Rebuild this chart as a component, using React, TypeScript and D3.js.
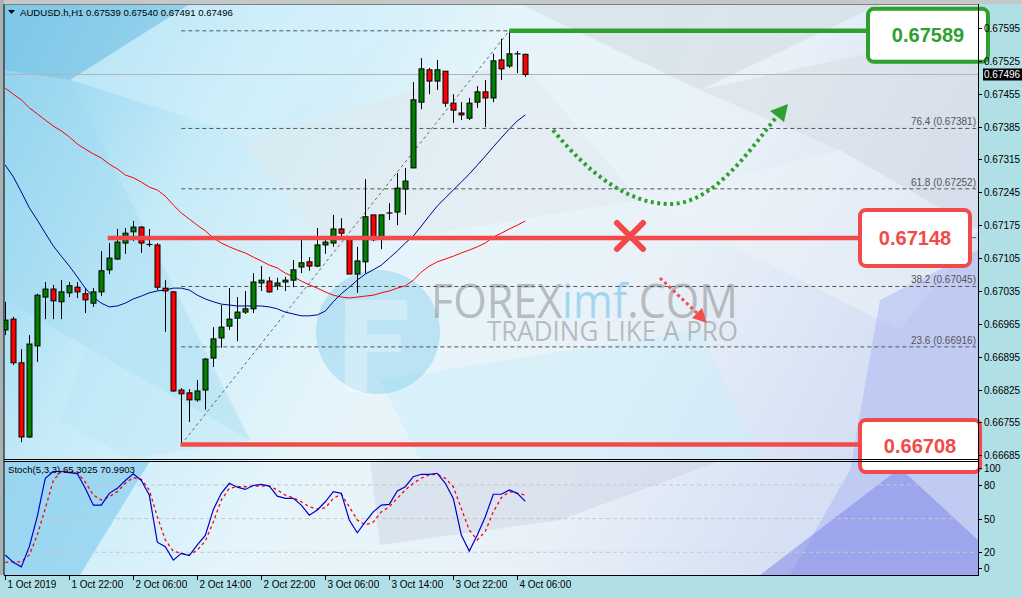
import React from 'react';
import * as d3 from 'd3';

// ---------- DATA ----------
const symbolLabel = 'AUDUSD.h,H1';
const headerOHLC = ['0.67539', '0.67540', '0.67491', '0.67496'];

const timeLabels = ['1 Oct 2019', '1 Oct 22:00', '2 Oct 06:00', '2 Oct 14:00', '2 Oct 22:00', '3 Oct 06:00', '3 Oct 14:00', '3 Oct 22:00', '4 Oct 06:00'];
const barsPerTimeLabel = 8;

const openP = [0.66952, 0.66975, 0.66882, 0.66724, 0.66918, 0.67022, 0.67039, 0.67012, 0.67031, 0.67043, 0.67029, 0.67009, 0.67033, 0.67080, 0.67103, 0.67137, 0.67161, 0.67171, 0.67135, 0.67133, 0.67041, 0.67033, 0.66824, 0.66818, 0.66803, 0.66824, 0.66892, 0.66935, 0.66960, 0.66977, 0.66990, 0.66997, 0.67052, 0.67056, 0.67046, 0.67054, 0.67058, 0.67086, 0.67097, 0.67088, 0.67133, 0.67137, 0.67167, 0.67150, 0.67071, 0.67097, 0.67197, 0.67146, 0.67201, 0.67203, 0.67252, 0.67297, 0.67437, 0.67506, 0.67482, 0.67503, 0.67435, 0.67414, 0.67403, 0.67437, 0.67459, 0.67446, 0.67527, 0.67514, 0.67540, 0.67539];
const highP = [0.67012, 0.66980, 0.66911, 0.66941, 0.67029, 0.67054, 0.67048, 0.67058, 0.67054, 0.67054, 0.67041, 0.67041, 0.67120, 0.67137, 0.67167, 0.67169, 0.67184, 0.67173, 0.67167, 0.67137, 0.67058, 0.67035, 0.66828, 0.66826, 0.66845, 0.66892, 0.66958, 0.67005, 0.67041, 0.67022, 0.67035, 0.67073, 0.67088, 0.67065, 0.67063, 0.67065, 0.67101, 0.67150, 0.67107, 0.67169, 0.67150, 0.67197, 0.67190, 0.67150, 0.67129, 0.67273, 0.67197, 0.67197, 0.67222, 0.67286, 0.67297, 0.67480, 0.67531, 0.67510, 0.67527, 0.67503, 0.67454, 0.67437, 0.67446, 0.67471, 0.67484, 0.67540, 0.67572, 0.67589, 0.67546, 0.67540];
const lowP = [0.66941, 0.66877, 0.66713, 0.66722, 0.66884, 0.66975, 0.66975, 0.66975, 0.67022, 0.67020, 0.66988, 0.67001, 0.67024, 0.67071, 0.67101, 0.67114, 0.67141, 0.67116, 0.67129, 0.67037, 0.66948, 0.66820, 0.66708, 0.66756, 0.66799, 0.66782, 0.66873, 0.66914, 0.66952, 0.66928, 0.66986, 0.66988, 0.67035, 0.67031, 0.67037, 0.67035, 0.67043, 0.67073, 0.67078, 0.67086, 0.67114, 0.67129, 0.67150, 0.67071, 0.67031, 0.67073, 0.67141, 0.67124, 0.67186, 0.67175, 0.67197, 0.67297, 0.67422, 0.67454, 0.67463, 0.67427, 0.67393, 0.67399, 0.67399, 0.67425, 0.67384, 0.67437, 0.67484, 0.67510, 0.67499, 0.67491];
const closeP = [0.66973, 0.66882, 0.66724, 0.66922, 0.67026, 0.67039, 0.67014, 0.67033, 0.67046, 0.67033, 0.67016, 0.67033, 0.67078, 0.67105, 0.67139, 0.67158, 0.67171, 0.67137, 0.67133, 0.67043, 0.67035, 0.66822, 0.66816, 0.66803, 0.66822, 0.66890, 0.66933, 0.66958, 0.66975, 0.66990, 0.66997, 0.67054, 0.67058, 0.67033, 0.67052, 0.67058, 0.67080, 0.67095, 0.67088, 0.67133, 0.67139, 0.67167, 0.67158, 0.67071, 0.67099, 0.67193, 0.67144, 0.67197, 0.67201, 0.67254, 0.67269, 0.67442, 0.67508, 0.67482, 0.67506, 0.67435, 0.67420, 0.67410, 0.67435, 0.67459, 0.67446, 0.67525, 0.67508, 0.67540, 0.67540, 0.67496];

// Moving averages (blue = fast, red = slow)
const maBlue = [0.67303, 0.67278, 0.67246, 0.67212, 0.67186, 0.67158, 0.67131, 0.67109, 0.67088, 0.67065, 0.67041, 0.67022, 0.67009, 0.67001, 0.67003, 0.67009, 0.67018, 0.67024, 0.67031, 0.67035, 0.67037, 0.67041, 0.67041, 0.67037, 0.67026, 0.67018, 0.67012, 0.67007, 0.67005, 0.67003, 0.67003, 0.67003, 0.67003, 0.67001, 0.66997, 0.66990, 0.66986, 0.66982, 0.66982, 0.66984, 0.66992, 0.67012, 0.67029, 0.67043, 0.67058, 0.67071, 0.67080, 0.67090, 0.67105, 0.67120, 0.67137, 0.67152, 0.67173, 0.67195, 0.67216, 0.67233, 0.67250, 0.67267, 0.67284, 0.67303, 0.67322, 0.67342, 0.67361, 0.67380, 0.67397, 0.67410];
const maRed = [0.67467, 0.67454, 0.67442, 0.67425, 0.67412, 0.67399, 0.67386, 0.67376, 0.67363, 0.67348, 0.67337, 0.67327, 0.67318, 0.67305, 0.67295, 0.67282, 0.67276, 0.67267, 0.67256, 0.67250, 0.67237, 0.67218, 0.67201, 0.67188, 0.67175, 0.67163, 0.67148, 0.67137, 0.67129, 0.67122, 0.67116, 0.67107, 0.67099, 0.67090, 0.67084, 0.67073, 0.67065, 0.67056, 0.67048, 0.67041, 0.67033, 0.67026, 0.67022, 0.67020, 0.67022, 0.67024, 0.67026, 0.67031, 0.67035, 0.67041, 0.67046, 0.67058, 0.67075, 0.67088, 0.67097, 0.67103, 0.67109, 0.67116, 0.67122, 0.67129, 0.67137, 0.67150, 0.67158, 0.67167, 0.67175, 0.67184];

// Stochastic (5,3,3)
const stochMain = [17.6, 11, 7, 25, 52, 86, 92, 92, 91, 90, 77, 62, 62, 72.5, 77, 84, 90, 84, 71, 29, 25, 13, 19, 17, 26.5, 35, 58, 72.5, 81.5, 78, 76, 79.5, 80.5, 79, 70, 68, 68, 62, 53, 57.7, 65, 74, 72.5, 48.8, 37.4, 47, 56, 62, 62.7, 74.6, 78.4, 87.3, 89.5, 89.5, 90.4, 81.5, 68, 35.4, 21, 35.4, 51.7, 71.7, 71.7, 75.5, 72.5, 65.3];
const stochSignal = [11, 11.5, 11.5, 17.6, 35.4, 59, 84, 92, 92, 91, 82.5, 71, 66.6, 69.5, 74, 81.5, 86.5, 85, 75.5, 51.7, 31, 21, 19, 17.6, 22, 30, 47, 66.6, 77, 78.4, 78.4, 79, 79, 79, 75.5, 71, 68.6, 65, 60.5, 58.5, 59.5, 68, 71.7, 60.5, 48.8, 44.3, 47, 56, 60.5, 68, 75.5, 81.5, 86, 89, 89.5, 86, 78.4, 59, 39.6, 31, 38.5, 56, 68.6, 74, 72.5, 71];
const stochHeader = 'Stoch(5,3,3) 65.3025 70.9903';

const priceTicks = [0.67595, 0.67525, 0.67455, 0.67385, 0.67315, 0.67245, 0.67175, 0.67105, 0.67035, 0.66965, 0.66895, 0.66825, 0.66755, 0.66685];
const bidPrice = 0.67496;
const stochTicks = [100, 80, 50, 20, 0];
const stochLevels = [80, 50, 20];

const fibLow = 0.66708;
const fibHigh = 0.67589;
const fibStartBar = 22;
const fibEndBar = 63;
const fibLevels = [0, 23.6, 38.2, 50, 61.8, 76.4, 100];
const fibLabelLevels = [23.6, 38.2, 61.8, 76.4]; // the others are covered by the level boxes

const keyLevels = [0.67589, 0.67148, 0.66708];
const keyLabels = ['0.67589', '0.67148', '0.66708'];
const keyStartBar = [63, 12.8, 21.9];

// ---------- LAYOUT ----------
const W = 1022, H = 598;
const L = 4, R = 978, mainTop = 4, mainBottom = 459, stTop = 461, stBottom = 575;
const green = '#2ea02e';
const redLine = '#f24a4a';

export default function App() {
  const x = d3.scaleLinear().domain([0, 65]).range([5.3, 525.3]);
  const y = d3.scaleLinear().domain([0.66685, 0.67595]).range([455.3, 28]);
  const ys = d3.scaleLinear().domain([0, 100]).range([574.7, 462.5]);

  const n = openP.length;
  const idx = d3.range(n);
  const maLine = (arr: number[]) => d3.line<number>().x((_, i) => x(i)).y(d => y(d))(arr) || '';
  const stLine = (arr: number[]) => d3.line<number>().x((_, i) => x(i)).y(d => ys(d))(arr) || '';

  const boxes = [
    { color: green, x: 868, w: 120, cy: y(keyLevels[0]) + 4.5, h: 53 },
    { color: redLine, x: 860, w: 110, cy: y(keyLevels[1]), h: 56 },
    { color: redLine, x: 860, w: 120, cy: y(keyLevels[2]) + 1.5, h: 52 },
  ];

  const fmt = d3.format('.5f');
  const fibPrice = (lv: number) => fibLow + (fibHigh - fibLow) * lv / 100;

  return (
    <svg width={W} height={H} style={{ position: 'absolute', left: 0, top: 0, fontFamily: '"Liberation Sans", Arial, sans-serif' }}>
      <defs>
        <linearGradient id="bgGrad" x1="0" y1="0" x2="1" y2="0.3">
          <stop offset="0" stopColor="#86cfee" />
          <stop offset="0.25" stopColor="#c6ebf8" />
          <stop offset="0.5" stopColor="#e6f5fb" />
          <stop offset="0.75" stopColor="#e9f1f8" />
          <stop offset="1" stopColor="#d6e0f4" />
        </linearGradient>
        <clipPath id="mainClip"><rect x={L} y={mainTop} width={R - L} height={mainBottom - mainTop} /></clipPath>
        <clipPath id="stClip"><rect x={L} y={stTop} width={R - L} height={stBottom - stTop} /></clipPath>
        <clipPath id="allClip"><rect x={L} y={mainTop} width={R - L} height={stBottom - mainTop} /></clipPath>
      </defs>

      {/* frame backgrounds */}
      <rect x={0} y={0} width={W} height={H} fill="#b0e0e6" />
      <rect x={0} y={0} width={W} height={4} fill="#c4c8c8" />
      <rect x={0} y={0} width={4} height={stBottom} fill="#a8b2b4" />

      {/* textured background */}
      <g clipPath="url(#allClip)">
        <rect x={L} y={mainTop} width={R - L} height={stBottom - mainTop} fill="url(#bgGrad)" />
        <polygon points="4,4 190,4 70,80 4,70" fill="#6fbde0" opacity="0.45" />
        <polygon points="4,70 70,80 250,440 4,300" fill="#9ed8f0" opacity="0.35" />
        <polygon points="190,4 420,4 260,140 70,80" fill="#d6f1fb" opacity="0.5" />
        <polygon points="240,140 520,60 640,200 330,250" fill="#dfe6ea" opacity="0.45" />
        <polygon points="520,4 880,4 700,90" fill="#c9d2d8" opacity="0.4" />
        <polygon points="700,90 978,30 978,230 840,150" fill="#d5dbe2" opacity="0.5" />
        <polygon points="640,200 840,150 978,230 900,330" fill="#eef3f8" opacity="0.5" />
        <polygon points="880,300 978,250 978,575 790,575 850,470" fill="#aab6f2" opacity="0.5" />
        <polygon points="760,575 900,468 978,540 978,575" fill="#7f88e6" opacity="0.55" />
        <polygon points="370,461 720,461 560,520 380,545" fill="#c4c8dc" opacity="0.35" />
        <polygon points="4,461 150,461 80,575 4,575" fill="#74c4ec" opacity="0.55" />
        <polygon points="380,380 700,330 760,459 420,459" fill="#c9eefa" opacity="0.5" />
        <polygon points="130,230 250,440 130,459 60,420" fill="#b6e5f6" opacity="0.4" />
      </g>

      {/* watermark */}
      <g clipPath="url(#mainClip)">
        <circle cx={378} cy={332} r={62} fill="#4fb6e3" opacity={0.28} />
        <path d="M345,300 h62 v20 h-40 v14 h34 v18 h-34 v40 h-22 z" fill="#ffffff" opacity={0.3} />
        <text x={431} y={318} fontSize={48} fontFamily='"Open Sans", sans-serif' textLength={307} lengthAdjust="spacingAndGlyphs">
          <tspan fill="#8c8c8c" fillOpacity={0.55}>FOREX</tspan>
          <tspan fill="#7cc6ea" fillOpacity={0.65}>imf</tspan>
          <tspan fill="#8c8c8c" fillOpacity={0.55}>.COM</tspan>
        </text>
        <text x={487} y={341} fontSize={27} fontFamily='"Open Sans", sans-serif' fill="#8c8c8c" fillOpacity={0.55} textLength={251} lengthAdjust="spacingAndGlyphs">TRADING LIKE A PRO</text>
      </g>

      {/* main panel content */}
      <g clipPath="url(#mainClip)">
        {/* bid line */}
        <line x1={L} x2={R} y1={y(bidPrice)} y2={y(bidPrice)} stroke="#b4b4b4" strokeWidth={1} />
        {/* fibo */}
        {fibLevels.map(lv => (
          <line key={lv} x1={x(fibStartBar)} x2={R} y1={y(fibPrice(lv))} y2={y(fibPrice(lv))} stroke="#555" strokeWidth={1} strokeDasharray="4,3" />
        ))}
        {fibLabelLevels.map(lv => (
          <text key={lv} x={R - 2} y={y(fibPrice(lv)) - 3} textAnchor="end" fontSize={10} fill="#555">{`${lv.toFixed(1)} (${fmt(fibPrice(lv))})`}</text>
        ))}
        <line x1={x(fibStartBar)} y1={y(fibLow)} x2={x(fibEndBar)} y2={y(fibHigh)} stroke="#666" strokeWidth={1} strokeDasharray="3,3" />

        {/* moving averages */}
        <path d={maLine(maRed)} fill="none" stroke="#ff0000" strokeWidth={1} />
        <path d={maLine(maBlue)} fill="none" stroke="#00008b" strokeWidth={1} />

        {/* candles */}
        {idx.map(i => {
          const cx = Math.round(x(i)) + 0.5;
          const o = y(openP[i]), c = y(closeP[i]);
          const top = Math.min(o, c), bh = Math.abs(o - c);
          const up = closeP[i] > openP[i];
          return (
            <g key={i}>
              <line x1={cx} x2={cx} y1={y(highP[i])} y2={y(lowP[i])} stroke="#000" strokeWidth={1} />
              {bh < 1.5 ? (
                <line x1={cx - 3} x2={cx + 3} y1={(o + c) / 2} y2={(o + c) / 2} stroke="#000" strokeWidth={1.2} />
              ) : (
                <rect x={cx - 2.5} y={top} width={5} height={bh} fill={up ? '#008000' : '#ff0000'} stroke="#000" strokeWidth={1} />
              )}
            </g>
          );
        })}

        {/* key level lines */}
        {keyLevels.map((lv, i) => (
          <line key={lv} x1={x(keyStartBar[i])} x2={boxes[i].x} y1={y(lv)} y2={y(lv)} stroke={boxes[i].color} strokeWidth={4.5} />
        ))}

        {/* red X */}
        <g stroke={redLine} strokeWidth={6} strokeLinecap="round">
          <line x1={617} y1={223} x2={643} y2={249} />
          <line x1={643} y1={223} x2={617} y2={249} />
        </g>

        {/* green dotted curved arrow */}
        <path d="M553,130 C590,175 630,205 672,204 C715,202 750,150 778,115" fill="none" stroke="#2ea02e" strokeWidth={4} strokeDasharray="3,3.5" />
        <polygon points="788,104 770,111 784,122" fill="#2ea02e" />
        {/* red dotted arrow */}
        <path d="M660,278 L697,313" fill="none" stroke="#f25050" strokeWidth={3} strokeDasharray="3,3" />
        <polygon points="707,323 692,318 702,308" fill="#f25050" />
      </g>

      {/* key level boxes */}
      {boxes.map((b, i) => (
        <g key={i}>
          <rect x={b.x} y={b.cy - b.h / 2} width={b.w} height={b.h} rx={6} fill="#ffffff" stroke={b.color} strokeWidth={4} />
          <text x={b.x + b.w / 2} y={b.cy + 7} textAnchor="middle" fontSize={20} fontWeight="bold" fill={b.color}>{keyLabels[i]}</text>
        </g>
      ))}

      {/* header */}
      <polygon points="8,10 15,10 11.5,14" fill="#000" />
      <text x={20} y={16} fontSize={9.6} fill="#000">{`${symbolLabel}  ${headerOHLC.join(' ')}`}</text>

      {/* stochastic panel */}
      <g clipPath="url(#stClip)">
        {stochLevels.map(v => (
          <line key={v} x1={L} x2={R} y1={ys(v)} y2={ys(v)} stroke="#c8c8c8" strokeWidth={1} strokeDasharray="4,3" />
        ))}
        <path d={stLine(stochSignal)} fill="none" stroke="#ff0000" strokeWidth={1.3} strokeDasharray="3,3" />
        <path d={stLine(stochMain)} fill="none" stroke="#0000cd" strokeWidth={1.2} />
      </g>
      <text x={8} y={473} fontSize={9.6} fill="#000">{stochHeader}</text>

      {/* frame lines */}
      <line x1={L} x2={L} y1={mainTop} y2={stBottom} stroke="#000" />
      <line x1={L} x2={R} y1={mainTop + 0.5} y2={mainTop + 0.5} stroke="#808080" />
      <line x1={L} x2={R} y1={mainBottom + 0.5} y2={mainBottom + 0.5} stroke="#000" />
      <line x1={L} x2={R} y1={stTop + 0.5} y2={stTop + 0.5} stroke="#000" />
      <line x1={L} x2={R + 1} y1={stBottom + 0.5} y2={stBottom + 0.5} stroke="#000" />
      <line x1={R + 0.5} x2={R + 0.5} y1={mainTop} y2={stBottom} stroke="#000" />

      {/* price axis */}
      {priceTicks.map(p => (
        <g key={p}>
          <line x1={R} x2={R + 4} y1={Math.round(y(p)) + 0.5} y2={Math.round(y(p)) + 0.5} stroke="#000" />
          <text x={R + 6} y={y(p) + 4} fontSize={10} fill="#000">{fmt(p)}</text>
        </g>
      ))}
      <rect x={R + 5} y={y(bidPrice) - 6} width={W - R - 5} height={12} fill="#000" />
      <text x={R + 6} y={y(bidPrice) + 4} fontSize={10} fill="#fff">{fmt(bidPrice)}</text>

      {/* stoch axis */}
      {stochTicks.map(v => {
        const ty = Math.max(468, Math.min(568, ys(v)));
        return (
          <g key={v}>
            <line x1={R} x2={R + 4} y1={Math.round(ty) + 0.5} y2={Math.round(ty) + 0.5} stroke="#000" />
            <text x={R + 6} y={ty + 4} fontSize={10} fill="#000">{v}</text>
          </g>
        );
      })}

      {/* time axis */}
      {timeLabels.map((t, i) => {
        const tx = Math.round(x(i * barsPerTimeLabel)) + 0.5;
        return (
          <g key={t}>
            <line x1={tx} x2={tx} y1={stBottom} y2={stBottom + 5} stroke="#000" />
            <text x={tx + 2} y={588} fontSize={10} fill="#000">{t}</text>
          </g>
        );
      })}
    </svg>
  );
}
